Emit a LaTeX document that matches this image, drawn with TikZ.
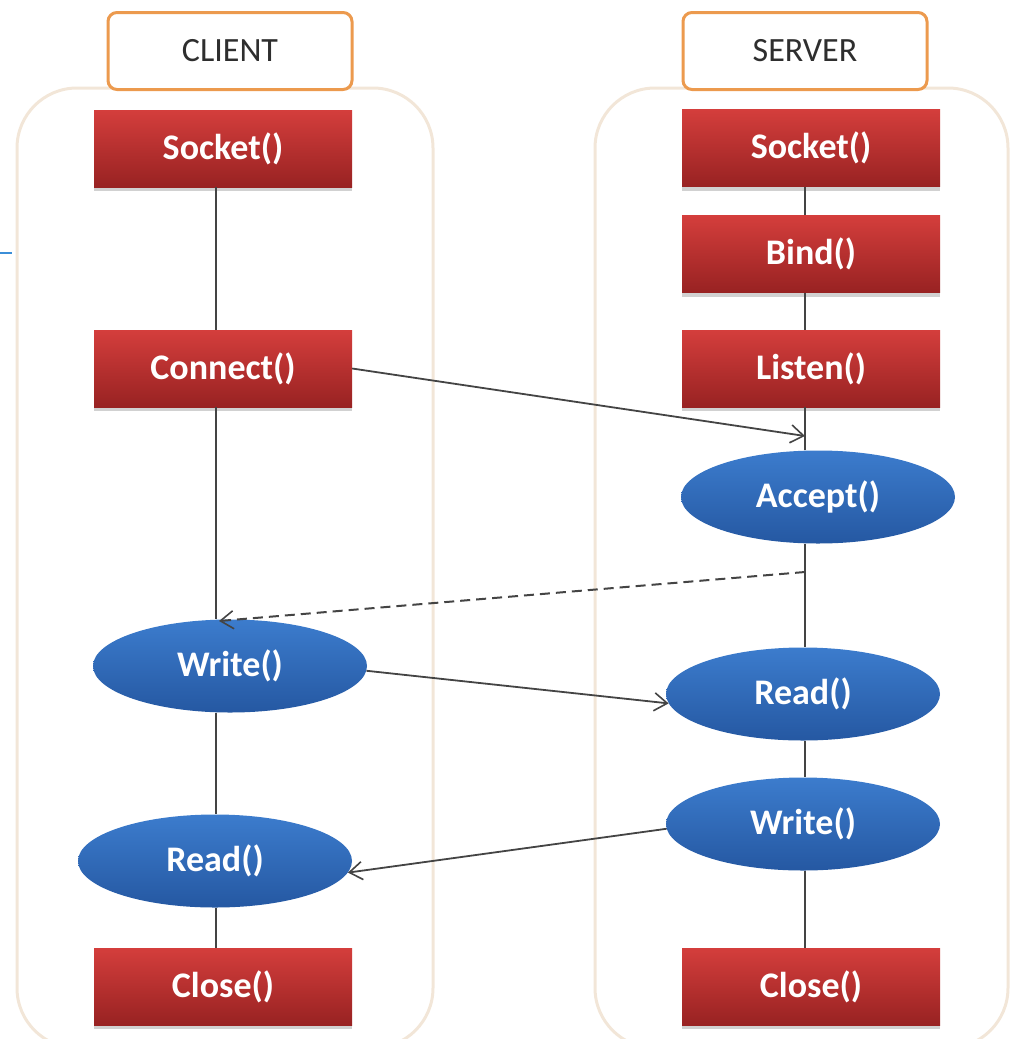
\documentclass[tikz,border=0pt]{standalone}
\usepackage{fontspec}
\setmainfont{Carlito}
\usetikzlibrary{shadows,arrows.meta,shapes.geometric}
\definecolor{boxtop}{HTML}{D43E3C}
\definecolor{boxmid}{HTML}{C43434}
\definecolor{boxbot}{HTML}{982222}
\definecolor{elltop}{HTML}{3C7CCD}
\definecolor{ellbot}{HTML}{2558A2}
\definecolor{headline}{HTML}{EC9A4E}
\definecolor{laneline}{HTML}{F2E6D8}
\definecolor{wire}{HTML}{444444}
\definecolor{headtext}{HTML}{2E2E2E}
\definecolor{stub}{HTML}{3B8ED8}
\tikzset{
  lane/.style={draw=laneline, line width=3pt, rounded corners=60pt},
  header/.style={draw=headline, line width=3pt, fill=white, rounded corners=9pt,
    minimum width=244pt, minimum height=77pt, inner sep=0pt,
    font=\fontsize{34}{37}\selectfont, text=headtext},
  callbox/.style={rectangle, top color=boxtop, middle color=boxmid, bottom color=boxbot,
    draw=none, minimum width=258pt, minimum height=77pt, inner sep=0pt,
    font=\bfseries\fontsize{36}{39}\selectfont, text=white,
    drop shadow={shadow xshift=0pt, shadow yshift=-4pt, opacity=0.3, fill=black!60}},
  callell/.style={ellipse, top color=elltop, bottom color=ellbot, draw=none,
    minimum width=274pt, minimum height=93pt, inner sep=0pt,
    font=\bfseries\fontsize{36}{39}\selectfont, text=white},
  wireline/.style={draw=wire, line width=1.8pt},
  msg/.style={wireline, -{Straight Barb[length=13pt, width=18pt, line width=1.6pt]}},
}
\begin{document}
\begin{tikzpicture}[x=1pt, y=-1pt]
\useasboundingbox (0,0) rectangle (1010,1039);

% swim lanes
\draw[lane] (17,88) rectangle (433,1048);
\draw[lane] (595,88) rectangle (1008,1048);

% stray edge mark at the left border
\draw[stub, line width=2pt] (0,253) -- (12,253);

% lane headers
\node[header] (hclient) at (230,51) {CLIENT};
\node[header] (hserver) at (805,51) {SERVER};

% lifeline positions
\coordinate (cx) at (216,0);
\coordinate (sx) at (805,0);

% client calls
\node[callbox] (csock)  at (223,148.5) {Socket()};
\node[callbox] (cconn)  at (223,368.5) {Connect()};
\node[callell] (cwrite) at (230,666)   {Write()};
\node[callell] (cread)  at (215,861)   {Read()};
\node[callbox] (cclose) at (223,986.5) {Close()};

% server calls
\node[callbox] (ssock)   at (811,148)   {Socket()};
\node[callbox] (sbind)   at (811,254)   {Bind()};
\node[callbox] (slisten) at (811,368.5) {Listen()};
\node[callell] (saccept) at (818,497)   {Accept()};
\node[callell] (sread)   at (803,694)   {Read()};
\node[callell] (swrite)  at (803,824)   {Write()};
\node[callbox] (sclose)  at (811,986.5) {Close()};

% client lifeline
\draw[wireline] (csock.south -| cx) -- (cconn.north -| cx);
\draw[wireline] (cconn.south -| cx) -- (cwrite.north -| cx);
\draw[wireline] (cwrite.south -| cx) -- (cread.north -| cx);
\draw[wireline] (cread.south -| cx) -- (cclose.north -| cx);

% server lifeline
\draw[wireline] (ssock.south -| sx) -- (sbind.north -| sx);
\draw[wireline] (sbind.south -| sx) -- (slisten.north -| sx);
\draw[wireline] (slisten.south -| sx) -- (saccept.north -| sx);
\draw[wireline] (saccept.south -| sx) -- (sread.north -| sx);
\draw[wireline] (sread.south -| sx) -- (swrite.north -| sx);
\draw[wireline] (swrite.south -| sx) -- (sclose.north -| sx);

% messages
\coordinate (conntarget) at (805,436);
\coordinate (acceptsrc)  at (805,572);
\coordinate (accepttgt)  at (219,621);
\draw[msg] (cconn.east) -- (conntarget);
\draw[msg, line width=2pt, dash pattern=on 10pt off 6pt] (acceptsrc) -- (accepttgt);
\draw[msg] (cwrite.-2) -- (sread.184);
\draw[msg] (swrite.182) -- (cread.-5);
\end{tikzpicture}
\end{document}
